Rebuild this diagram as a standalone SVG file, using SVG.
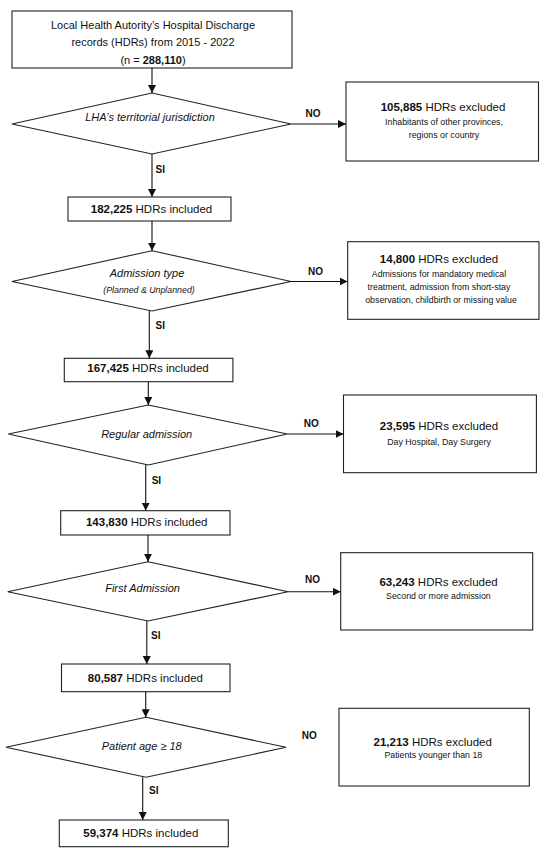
<svg xmlns="http://www.w3.org/2000/svg" width="550" height="853" viewBox="0 0 550 853">
<style>
text{font-family:"Liberation Sans",Arial,sans-serif;fill:#111;text-anchor:middle}
.box{fill:#fff;stroke:#222;stroke-width:1.1}
.dia{fill:#fff;stroke:#222;stroke-width:1.1}
.main{font-size:11px}
.inc{font-size:11.5px}
.exh{font-size:11.5px}
.exs{font-size:8.8px}
.q{font-size:11px;font-style:italic}
.qs{font-size:8.8px;font-style:italic}
.lbl{font-size:10px;font-weight:bold;text-anchor:start}
.b{font-weight:bold}
.con line{stroke:#111;stroke-width:1.1;marker-end:url(#ah)}
</style>
<defs>
<marker id="ah" markerUnits="userSpaceOnUse" markerWidth="9" markerHeight="8" refX="8" refY="4" orient="auto">
<path d="M0,0 L8,4 L0,8 Z" fill="#111"/>
</marker>
</defs>
<rect width="550" height="853" fill="#fff"/>

<g id="start">
<rect class="box" x="12" y="11" width="280" height="57"/>
<text class="main" x="153" y="29">Local Health Autority’s Hospital Discharge</text>
<text class="main" x="153" y="46">records (HDRs) from 2015 - 2022</text>
<text class="main" x="153" y="64">(n = <tspan class="b">288,110</tspan>)</text>
</g>

<g id="q1">
<polygon class="dia" points="152,93 291,124 152,154 12,124"/>
<text class="q" x="150" y="120.5">LHA’s territorial  jurisdiction</text>
</g>
<g id="ex1">
<rect class="box" x="346" y="82" width="192.5" height="79"/>
<text class="exh" x="443" y="111"><tspan class="b">105,885</tspan> HDRs excluded</text>
<text class="exs" x="444" y="124.5">Inhabitants of other provinces,</text>
<text class="exs" x="444" y="137.5">regions or country</text>
</g>
<g id="inc1">
<rect class="box" x="68" y="197" width="163" height="24"/>
<text class="inc" x="151.5" y="213"><tspan class="b">182,225</tspan> HDRs included</text>
</g>

<g id="q2">
<polygon class="dia" points="152,250.7 291,281.5 152,311 12,281.5"/>
<text class="q" x="147" y="277.3">Admission type</text>
<text class="qs" x="149" y="292.8">(Planned &amp; Unplanned)</text>
</g>
<g id="ex2">
<rect class="box" x="347.7" y="241.7" width="191.3" height="77.6"/>
<text class="exh" x="439" y="263.3"><tspan class="b">14,800</tspan> HDRs excluded</text>
<text class="exs" x="439" y="276.5">Admissions for mandatory medical</text>
<text class="exs" x="439" y="290">treatment, admission from short-stay</text>
<text class="exs" x="441" y="303.3">observation, childbirth or missing value</text>
</g>
<g id="inc2">
<rect class="box" x="64.3" y="358.3" width="168.6" height="23.4"/>
<text class="inc" x="148" y="371.8"><tspan class="b">167,425</tspan> HDRs included</text>
</g>

<g id="q3">
<polygon class="dia" points="148.3,405 287.3,434 148.3,465 8.3,434"/>
<text class="q" x="146.7" y="438">Regular admission</text>
</g>
<g id="ex3">
<rect class="box" x="343.5" y="395" width="192.9" height="77.7"/>
<text class="exh" x="439" y="429.8"><tspan class="b">23,595</tspan> HDRs excluded</text>
<text class="exs" x="439" y="445">Day Hospital, Day Surgery</text>
</g>
<g id="inc3">
<rect class="box" x="60.7" y="510.7" width="169.3" height="24.3"/>
<text class="inc" x="146.7" y="525.8"><tspan class="b">143,830</tspan> HDRs included</text>
</g>

<g id="q4">
<polygon class="dia" points="148,561.7 288,591.7 148,621 7.7,591.7"/>
<text class="q" x="142.6" y="592">First Admission</text>
</g>
<g id="ex4">
<rect class="box" x="340.7" y="552.7" width="192" height="77.3"/>
<text class="exh" x="438.6" y="585.8"><tspan class="b">63,243</tspan> HDRs excluded</text>
<text class="exs" x="438.4" y="599">Second or more admission</text>
</g>
<g id="inc4">
<rect class="box" x="61.5" y="664" width="168.5" height="27.7"/>
<text class="inc" x="145.4" y="681.8"><tspan class="b">80,587</tspan> HDRs included</text>
</g>

<g id="q5">
<polygon class="dia" points="146,717.3 286,747.3 146,777.3 6,747.3"/>
<text class="q" x="141.7" y="750">Patient age ≥ 18</text>
</g>
<g id="ex5">
<rect class="box" x="339" y="708.3" width="190.3" height="77.7"/>
<text class="exh" x="432.7" y="745.8"><tspan class="b">21,213</tspan> HDRs excluded</text>
<text class="exs" x="433.3" y="757.5">Patients younger than 18</text>
</g>
<g id="inc5">
<rect class="box" x="59.3" y="820" width="169" height="26.7"/>
<text class="inc" x="140.8" y="836.8"><tspan class="b">59,374</tspan> HDRs included</text>
</g>

<g id="connectors" class="con">
<line x1="152" y1="68" x2="152" y2="93"/>
<line x1="291" y1="124" x2="346" y2="124"/>
<line x1="152" y1="154" x2="152" y2="197"/>
<line x1="152" y1="221" x2="152" y2="250.7"/>
<line x1="291" y1="281.5" x2="347.7" y2="281.5"/>
<line x1="149.3" y1="311" x2="149.3" y2="358.3"/>
<line x1="148.3" y1="381.7" x2="148.3" y2="405"/>
<line x1="287.3" y1="434" x2="343.5" y2="434"/>
<line x1="145.7" y1="465" x2="145.7" y2="510.7"/>
<line x1="148" y1="535" x2="148" y2="561.7"/>
<line x1="288" y1="591.7" x2="340.7" y2="591.7"/>
<line x1="146.8" y1="621" x2="146.8" y2="664"/>
<line x1="145.7" y1="691.7" x2="145.7" y2="717.3"/>
<line x1="142.7" y1="777.3" x2="142.7" y2="820"/>
</g>

<g id="labels">
<text class="lbl" x="305.5" y="117">NO</text>
<text class="lbl" x="155.6" y="172.8">SI</text>
<text class="lbl" x="308" y="274.5">NO</text>
<text class="lbl" x="155.6" y="328.8">SI</text>
<text class="lbl" x="303.8" y="427">NO</text>
<text class="lbl" x="151.7" y="483.8">SI</text>
<text class="lbl" x="305" y="583">NO</text>
<text class="lbl" x="151" y="638.8">SI</text>
<text class="lbl" x="301.7" y="738.8">NO</text>
<text class="lbl" x="149" y="793.8">SI</text>
</g>
</svg>
